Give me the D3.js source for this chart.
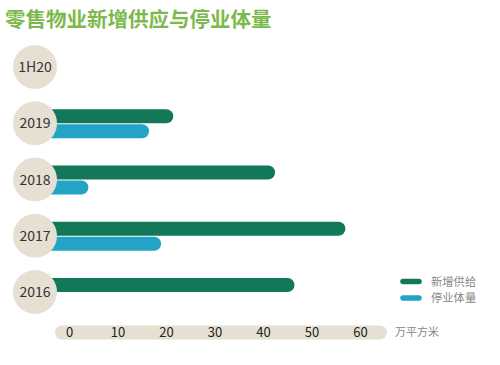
<!DOCTYPE html>
<html><head><meta charset="utf-8">
<script src="https://cdn.jsdelivr.net/npm/d3@7"></script>
<style>body{margin:0;background:#fff}svg{display:block}</style>
</head><body>
<svg id="c" width="500" height="365"></svg>
<script>
const categories = ["1H20", "2019", "2018", "2017", "2016"];
const newSupply = [null, 21.5, 42.5, 57, 46.5];
const closures = [null, 16.5, 4, 19, null];
const seriesNames = ["新增供给", "停业体量"];
const tickValues = [0, 10, 20, 30, 40, 50, 60];
const unitLabel = "万平方米";
const title = "零售物业新增供应与停业体量";

const colors = { green: "#13785a", blue: "#23a3c6", beige: "#e6e0d3", title: "#7cb94b" };
const font = "'Noto Sans CJK SC', 'Noto Sans', sans-serif";

const svg = d3.select("#c");
const x = d3.scaleLinear().domain([0, 60]).range([69, 360]);
const y = d3.scalePoint().domain(categories).range([67, 292]);
const barH = 14, cx = 35, r = 22;

svg.append("text").attr("x", 5).attr("y", 27).text(title)
  .attr("font-family", font).attr("font-weight", "bold").attr("font-size", 20.5)
  .attr("fill", colors.title);

const g = svg.append("g");
categories.forEach((c, i) => {
  const cy = y(c);
  if (newSupply[i] != null) {
    g.append("rect").attr("x", cx).attr("y", cy - 7 - barH / 2)
      .attr("width", x(newSupply[i]) - cx).attr("height", barH).attr("rx", 7)
      .attr("fill", colors.green);
  }
  if (closures[i] != null) {
    g.append("rect").attr("x", cx).attr("y", cy + 8 - barH / 2)
      .attr("width", x(closures[i]) - cx).attr("height", barH).attr("rx", 7)
      .attr("fill", colors.blue);
  }
  g.append("circle").attr("cx", cx).attr("cy", cy).attr("r", r).attr("fill", colors.beige);
  g.append("text").attr("x", cx).attr("y", cy).attr("dy", "0.36em")
    .attr("text-anchor", "middle").attr("font-family", font).attr("font-size", 14)
    .attr("fill", "#333").text(c);
});

// axis pill
svg.append("rect").attr("x", 55).attr("y", 325.5).attr("width", 332).attr("height", 14)
  .attr("rx", 7).attr("fill", colors.beige);
const ax = svg.append("g").attr("transform", "translate(0,332.5)")
  .call(d3.axisBottom(x).tickValues(tickValues).tickSize(0).tickPadding(0));
ax.select(".domain").remove();
ax.selectAll("text").attr("dy", "0.36em").attr("font-family", font).attr("font-size", 13)
  .attr("fill", "#222");
svg.append("text").attr("x", 395).attr("y", 332.5).attr("dy", "0.36em").text(unitLabel)
  .attr("font-family", font).attr("font-size", 11).attr("fill", "#888");

// legend
const leg = [colors.green, colors.blue];
const ly0 = 281.5, lstep = 16.5;
seriesNames.forEach((n, i) => {
  const ly = ly0 + i * lstep;
  svg.append("line").attr("x1", 403).attr("x2", 419).attr("y1", ly).attr("y2", ly)
    .attr("stroke", leg[i]).attr("stroke-width", 5.5).attr("stroke-linecap", "round");
  svg.append("text").attr("x", 431).attr("y", ly).attr("dy", "0.36em").text(n)
    .attr("font-family", font).attr("font-size", 11.3).attr("fill", "#888");
});
</script>
</body></html>
